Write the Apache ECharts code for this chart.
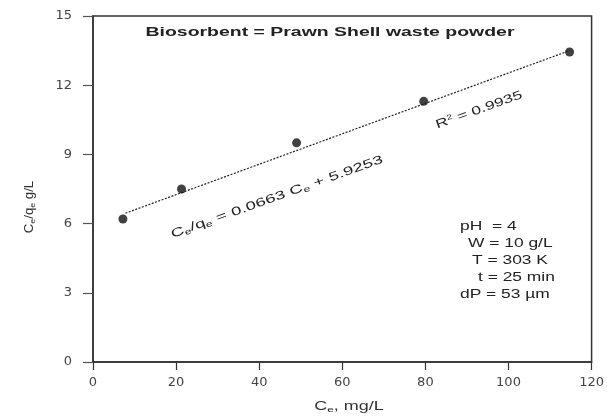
<!DOCTYPE html>
<html><head><meta charset="utf-8">
<script src="https://cdn.jsdelivr.net/npm/echarts@6/dist/echarts.min.js"></script>
<style>html,body{margin:0;padding:0;background:#fff}#c{width:607px;height:418px}</style>
</head><body><div id="c"></div>
<script>
var ceValues = [7.2, 21.3, 49.0, 79.6, 114.7];
var ceqeValues = [6.2, 7.5, 9.5, 11.3, 13.44];
var fitLine = [[7.8, 6.45], [114.7, 13.5]];
var xTicks = [0, 20, 40, 60, 80, 100, 120];
var yTicks = [0, 3, 6, 9, 12, 15];
var titleText = 'Biosorbent = Prawn Shell waste powder';
var eqText = 'C{s|e}/q{s|e} = 0.0663 C{s|e} + 5.9253';
var r2Text = 'R{sup|2} = 0.9935';
var xName = 'C{s|e}, mg/L';
var yName = 'C{s|e}/q{s|e} g/L';
var condLines = ['pH  = 4', 'W = 10 g/L', 'T = 303 K', 't = 25 min', 'dP = 53 µm'];

var chart = echarts.init(document.getElementById('c'));
var ff = '"Liberation Sans", Arial, sans-serif';
var tf = '"DejaVu Sans", sans-serif';
var txtCol = '#333';
var richSub = {s: {fontSize: 8, verticalAlign: 'bottom', padding: [6, 0, 0, 0], fill: '#222'},
               sup: {fontSize: 7, padding: [0, 0, 6, 0], fill: '#222'}};
function txt(x, y, text, opts) {
  opts = opts || {};
  var t = {type: 'text', x: 0, y: 0, scaleX: opts.sx || 1.5, scaleY: opts.sy || 1,
    style: {text: text, font: (opts.bold ? 'bold ' : '') + (opts.size || 12) + 'px ' + ff, fill: opts.fill || '#222',
      align: opts.align || 'center', verticalAlign: 'middle', rich: richSub}};
  return {type: 'group', x: x, y: y, rotation: opts.rot || 0, children: [t]};
}
var rot = 19.7 * Math.PI / 180;
var graphics = [
  txt(330, 33, titleText, {bold: true, sx: 1.62, sy: 1.05}),
  txt(277, 197, eqText, {rot: rot, sx: 1.55}),
  txt(479, 110, r2Text, {rot: rot, sx: 1.45}),
  txt(349, 407, xName, {sx: 1.5, fill: txtCol}),
  txt(30, 207, yName, {rot: Math.PI / 2, sx: 1.1, fill: txtCol})
];
var condX = [460, 468, 472, 478, 460];
condLines.forEach(function (t, i) {
  graphics.push(txt(condX[i], 227 + i * 16.8, t, {align: 'left', sx: 1.45}));
});
chart.setOption({
  animation: false,
  grid: {left: 93, right: 12, top: 16, bottom: 56, show: true, borderColor: '#333', borderWidth: 1.5},
  xAxis: {
    type: 'value', min: xTicks[0], max: xTicks[xTicks.length - 1], interval: 20,
    axisLine: {show: true, lineStyle: {color: '#333', width: 1.5}},
    axisTick: {show: true, inside: false, length: 8, lineStyle: {color: '#333', width: 1.2}},
    splitLine: {show: false},
    axisLabel: {color: '#444', fontFamily: tf, fontSize: 13, margin: 14}
  },
  yAxis: {
    type: 'value', min: yTicks[0], max: yTicks[yTicks.length - 1], interval: 3,
    axisLine: {show: true, lineStyle: {color: '#333', width: 1.5}},
    axisTick: {show: true, inside: false, length: 10, lineStyle: {color: '#555', width: 1.2}},
    splitLine: {show: false},
    axisLabel: {color: '#444', fontFamily: tf, fontSize: 13, margin: 21}
  },
  series: [
    {type: 'line', data: fitLine, symbol: 'none', lineStyle: {color: '#222', width: 1.2, type: [2, 1.5]}, z: 2},
    {type: 'scatter', data: ceValues.map(function (x, i) { return [x, ceqeValues[i]]; }),
     symbol: 'circle', symbolSize: 9, itemStyle: {color: '#111'}, z: 3}
  ],
  graphic: graphics
});
</script></body></html>
